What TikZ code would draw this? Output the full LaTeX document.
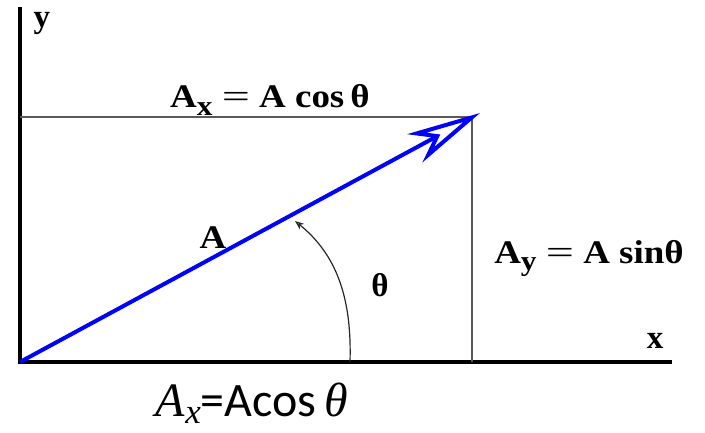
\documentclass[tikz,border=0pt]{standalone}
\usepackage{graphicx}
\usepackage{fontspec}
\setmainfont{Liberation Serif}
\newfontfamily\calibrifont{Carlito}
\usetikzlibrary{arrows.meta}

\newcommand{\lowsub}[1]{\raisebox{-8pt}{\fontsize{28}{28}\selectfont #1}}
\newcommand{\widetext}[1]{\scalebox{1.12}[1]{#1}}
\newcommand{\wideeq}{\scalebox{1.35}[1]{\mdseries =}}

\begin{document}
\begin{tikzpicture}[
		x=1pt, y=1pt,
		axis/.style={black, line width=3.5pt},
		guide/.style={black!65, line width=1.4pt},
		vec/.style={blue, line width=4pt, -{Stealth[open, length=74pt, width=32pt, inset=22pt]}},
		angle arc/.style={black!85, line width=1.2pt, -{Stealth[open, length=9pt, width=7pt]}},
		lbl/.style={font=\fontsize{33}{36}\selectfont\bfseries, inner sep=0pt}
		]
		
		% Frame of the picture
		\useasboundingbox (0,0) rectangle (705,432);
		
		% Axes and guide lines
		\coordinate (O) at (20,70);
		\coordinate (ytop) at (20,425);
		\coordinate (xend) at (672,70);
		\coordinate (ycorner) at (20,315);
		\coordinate (T) at (472,315);
		\coordinate (F) at (472,70);
		\coordinate (P) at (480,319);
		
		\draw[axis] (ytop) -- (O) -- (xend);
		\draw[guide] (ycorner) -- (T) -- (F);
		
		% The vector A
		\draw[vec] (O) -- (P);
		
		% Angle arc
		\coordinate (arcstart) at (350,70);
		\coordinate (arcend) at (295,211);
		\draw[angle arc] (arcstart) .. controls (352,135) and (336,178) .. (arcend);
		
		% Labels
		\node[lbl] (ylabel) at (42,409) {y};
		\node[lbl] (xlabel) at (655,91) {x};
		\node[lbl] (alabel) at (213,194) {\widetext{A}};
		\node[lbl] (thlabel) at (380,147) {θ};
		\node[lbl, anchor=base] (axlabel) at (270,324) {\widetext{A\lowsub{x}\ \wideeq\ A cos\,θ}};
		\node[lbl, anchor=base] (aylabel) at (589,169) {\widetext{A\lowsub{y}\ \wideeq\ A sinθ}};
		
		% Component written below the axis
		\node[inner sep=0pt, anchor=base, font=\fontsize{48}{52}\selectfont] (axbottom) at (252,16)
		{\textit{A}\raisebox{-7pt}{\fontsize{35}{35}\selectfont\textit{x}}{\calibrifont =Acos}\,\textit{θ}};
		
	\end{tikzpicture}
\end{document}
